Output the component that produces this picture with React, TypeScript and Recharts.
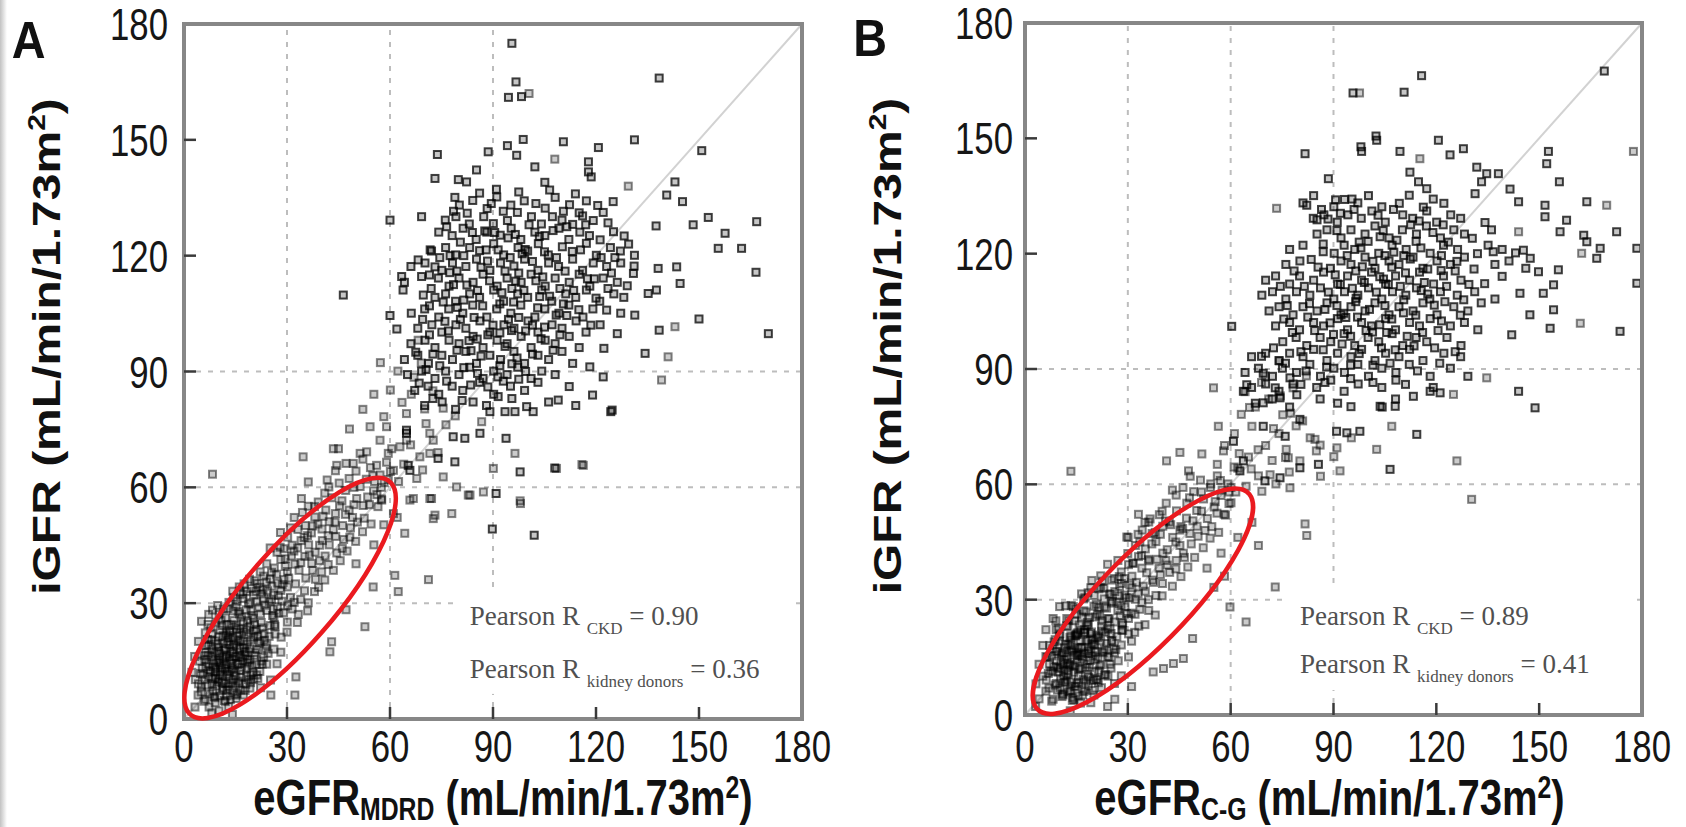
import React from "react";
import { ScatterChart, Scatter, XAxis, YAxis, ReferenceLine, ReferenceArea } from "recharts";

type Pt = [number, number];

const axisTicks = [0, 30, 60, 90, 120, 150, 180];
const gridValues = [30, 60, 90];
const identitySegment = [{ x: 0, y: 0 }, { x: 180, y: 180 }];

const ckdA: Pt[] = [
  [6.2,5.1],[9.1,4.2],[12.3,6.0],[15.2,5.3],[8.4,7.2],[11.2,8.1],[14.1,7.4],[17.3,6.2],[5.1,8.3],[19.2,8.0],[13.0,3.2],[7.3,3.1],
  [6.0,10.2],[8.2,9.1],[10.1,10.3],[12.2,9.2],[14.3,10.1],[16.1,9.3],[18.2,11.1],[20.3,10.2],[9.1,12.2],[11.3,11.1],[13.2,12.3],[15.1,11.2],[7.2,11.0],[22.1,12.3],[4.2,9.1],
  [5.3,13.1],[7.1,14.2],[9.2,13.0],[10.1,15.2],[12.3,14.1],[14.2,13.2],[16.0,14.3],[18.3,13.1],[11.1,13.3],[13.3,15.1],[15.2,16.2],[17.1,15.0],[19.2,15.3],[21.1,14.2],[8.2,16.1],[6.1,15.3],[23.2,16.0],[20.1,12.2],
  [6.3,17.2],[8.1,18.1],[10.2,17.0],[12.1,18.3],[14.3,17.1],[16.2,18.2],[18.1,17.3],[11.2,16.1],[13.1,19.2],[15.3,19.0],[17.2,20.1],[19.1,18.2],[21.3,18.0],[9.2,20.2],[7.1,19.3],[22.2,20.1],[24.1,19.2],[12.3,16.2],
  [8.2,22.1],[10.1,21.3],[12.3,22.2],[14.2,21.0],[16.1,22.3],[18.2,23.1],[20.3,21.2],[11.1,24.2],[13.2,23.0],[15.1,24.3],[17.3,25.1],[19.2,24.0],[21.1,23.2],[23.3,22.1],[25.1,24.2],[9.3,25.1],[6.2,22.3],
  [10.2,27.1],[12.1,26.2],[14.3,28.0],[16.2,27.2],[18.1,28.3],[20.2,26.1],[22.3,27.2],[24.1,28.1],[26.2,26.3],[13.1,30.2],[15.2,29.1],[17.1,31.2],[19.3,30.1],[21.2,30.3],[23.1,31.1],[8.3,28.2],[27.2,29.1],
  [14.2,33.1],[16.1,34.2],[18.3,33.0],[20.2,32.2],[22.1,34.1],[24.3,33.2],[26.1,32.1],[28.2,33.3],[19.1,36.2],[21.3,35.1],[23.2,37.0],[25.1,36.3],[27.3,35.2],[29.1,36.1],[17.2,32.3],[30.1,34.2],
  [10.6,12.4],[12.6,11.6],[13.7,14.4],[11.6,15.6],[9.6,14.6],[14.6,12.1],[16.4,12.6],[15.6,14.1],[10.1,18.6],[12.6,20.1],[14.6,19.4],[16.1,16.6],[8.6,15.1],[7.6,12.6],[17.6,17.4],[13.1,10.6],[11.1,9.4],[9.1,10.6],[15.1,8.6],[18.6,15.4],
  [22.2,38.1],[24.1,40.2],[26.3,39.1],[28.2,41.3],[30.1,38.2],[32.3,40.1],[27.1,43.2],[29.2,44.1],[31.3,42.2],[33.1,44.3],[35.2,42.1],[30.2,47.1],[34.1,46.2],[36.3,45.1],[38.2,43.2],[25.1,44.3],[37.1,48.2],[33.2,49.1],[40.3,46.2],[28.1,48.3],
  [32.1,52.2],[35.3,50.1],[38.1,52.3],[40.2,49.2],[42.3,51.1],[36.2,55.1],[39.1,56.2],[41.3,54.1],[44.1,53.2],[46.2,50.1],[43.1,57.3],[45.3,55.2],[48.1,54.1],[34.2,57.1],[47.1,59.2],[50.3,57.1],[42.2,60.1],[49.1,52.2],[52.2,55.3],
  [45.2,61.1],[48.1,62.3],[51.3,60.2],[53.1,62.1],[55.2,59.1],[50.1,64.2],[54.3,65.1],[57.1,63.2],[56.2,58.1],[52.1,67.3],[58.3,61.2],[60.1,64.1],[47.2,66.2],[44.1,64.3],
  [3.2,3.1],[4.1,6.2],[2.3,12.1],[3.1,16.2],[4.2,20.1],[5.1,25.3],[7.2,27.1],[3.3,10.2],[25.2,10.1],[27.1,14.3],[26.2,18.1],[28.3,21.2],[30.1,25.1],[28.2,17.3],[24.1,14.2],[22.3,8.1],[30.2,29.3],[32.1,30.2],[33.3,27.1],[35.1,33.2],[36.2,30.1],[38.3,36.2],[40.1,38.1],[37.2,40.3],[41.1,42.2],[42.3,45.1],[44.2,47.3],[46.1,44.2],[48.3,47.1],[39.2,34.1],[25.3,6.2],[14.1,1.2],[10.2,2.1],
  [8.3,63.4],[34.7,67.9],[43.5,70.0],[41.7,61.9],[36.2,61.4],[52.7,23.9],[43.0,20.0],[32.6,10.9],[61.4,37.2],[71.2,36.1],[62.4,33.0],[55.1,34.2],[72.6,51.9],[65.8,56.7],[71.6,57.1],[8.1,1.6],[47.2,28.3],[50.1,40.2],[55.3,45.1],[58.2,50.3],[62.1,52.2],[64.3,48.1],[42.5,17.4],[32.3,6.2],
  [54.2,75.7],[57.1,72.2],[59.5,68.8],[61.0,64.4],[68.7,67.9],[62.9,70.5],[51.3,68.8],[49.3,66.2],[45.0,70.0],[44.5,65.7],[56.1,65.7],[53.2,69.2],[59.0,75.7],[71.6,68.8],[72.6,72.2],[67.8,62.3],[57.6,56.7],[61.0,53.2],[66.8,57.1],[72.1,57.1],[73.1,52.8],[78.0,53.2],[82.8,58.0],[87.2,58.8],[75.5,62.7],[64.8,79.1],[64.8,72.2],[71.6,74.0],[86.7,77.0],[79.4,60.1],[68.2,98.1],[48.2,75.1],[52.1,80.2],[55.3,84.1],[58.2,78.3],[60.1,85.2],[62.3,90.1],[57.2,92.3],[96.4,68.8],[108.5,64.9],[116.3,65.7],[90.1,64.9],[98.0,55.8],[83.3,58.0],[97.9,56.5],[108.0,145.0],[129.4,138.0],[141.0,93.8],[139.1,87.8],[143.0,101.6],[115.9,65.9],[100.5,162.0],[70.1,80.3],[66.2,84.1],[76.3,76.2],[69.1,92.2]
];

const ckdCoreExtraA: Pt[] = [
  [7.5,6.5],[10.5,6.0],[13.5,5.0],[16.5,7.5],[9.5,8.5],[12.5,7.5],[18.0,9.0],[5.5,11.5],[8.5,13.5],[10.5,11.5],[12.0,13.0],[14.0,15.5],[16.5,16.0],[18.5,14.5],[20.5,16.5],[7.0,16.5],[9.5,17.5],[11.5,19.5],[13.5,17.5],[15.5,21.5],[17.5,18.5],[19.5,20.5],[21.5,21.5],[10.5,23.0],[12.5,24.5],[14.5,25.5],[16.5,23.5],[18.5,25.5],[20.5,24.5],[22.5,25.0],[11.5,28.5],[15.5,30.5],[19.5,28.0],[23.5,29.5],[17.5,35.0],[25.5,31.0],[13.0,21.0],[6.5,19.0],[8.0,20.5],[22.5,15.0],[24.5,17.0],[26.5,22.0],[5.0,7.0],[9.0,5.5],[12.0,4.5],[15.5,6.5],[19.5,11.5],[21.5,10.5],[4.5,15.0],[7.0,24.5],[14.5,31.5],[21.0,33.0],[26.0,28.5],[28.5,30.5],[31.0,31.5],[24.0,35.5],[29.5,39.5],[34.0,40.5],[31.5,45.0],[36.0,47.5],[39.0,50.5],[43.5,49.0],[46.0,56.5],[41.0,58.5],[49.5,60.0],[53.5,57.5],[57.5,60.0],[55.0,63.0],[59.0,66.5],[62.5,61.5],[64.0,66.0],[60.5,70.0],[66.0,71.0],[69.5,64.5],[74.0,69.0],[70.5,76.5],[75.5,80.5],[72.5,85.0],[79.0,78.5],[67.0,88.5],[63.5,82.0]
];

const ckdCoreMoreA: Pt[] = [
  [5.8,4.6],[8.8,5.8],[11.8,4.8],[14.8,6.2],[17.8,7.4],[6.8,8.8],[9.8,9.6],[12.8,8.4],[15.8,9.8],[18.8,10.2],[21.2,11.4],[4.8,11.8],[7.8,12.2],[10.8,13.8],[13.8,12.8],[16.8,13.4],[19.8,13.8],[22.8,14.2],[5.8,16.4],[8.8,17.2],[11.8,17.8],[14.8,16.2],[17.8,16.4],[20.8,17.2],[23.8,18.2],[6.8,20.6],[9.8,19.4],[12.8,21.6],[15.8,20.2],[18.8,21.8],[21.8,19.6],[24.8,21.4],[7.8,23.6],[10.8,25.6],[13.8,24.4],[16.8,26.4],[19.8,26.8],[22.8,23.6],[25.8,26.8],[9.8,29.4],[12.8,28.6],[15.8,27.8],[18.8,29.8],[21.8,28.8],[24.8,30.4],[16.4,32.8],[19.6,33.8],[22.6,32.4],[25.6,34.4],[28.6,34.8],[11.4,7.4],[13.6,9.4],[16.6,10.8],[10.4,14.6],[12.4,16.6],[14.4,18.6],[16.4,20.4],[18.4,19.4],[11.4,21.6],[13.4,22.4],[15.4,23.2],[17.4,22.6],[20.4,22.8],[8.4,10.4],[6.4,13.6],[19.4,9.4],[23.4,20.4],[26.4,24.4],[27.6,27.4],[20.6,35.8]
];

const ckdBandExtraA: Pt[] = [
  [26.5,24.0],[29.0,27.5],[31.5,28.5],[34.0,31.0],[32.5,35.0],[35.5,36.5],[37.5,38.5],[39.5,41.0],[42.0,40.0],[44.5,43.0],[46.5,46.5],[48.5,49.5],[50.5,51.0],[52.5,52.0],[54.0,55.5],[56.5,55.0],[38.0,33.0],[41.0,36.0],[43.5,38.5],[45.5,41.0],[47.5,43.5],[50.0,46.0],[52.0,48.5],[54.5,50.5],[30.0,22.5],[33.0,25.0],[36.0,28.0],[27.5,32.0],[30.5,36.5],[33.5,38.5],[36.5,42.5],[39.5,45.0],[42.0,47.5],[44.0,51.0],[47.0,53.0],[49.5,55.5],[27.0,37.5],[29.5,41.5],[32.0,43.5],[35.0,47.0],[37.5,50.0],[40.5,52.5],[23.0,33.5],[25.5,38.0],[28.0,44.5],[31.0,49.5],[34.5,53.5],[38.0,55.0],[57.5,57.0],[59.5,62.0],[55.5,61.5]
];

const donorsA: Pt[] = [
  [95.5,175.0],[96.7,165.0],[98.3,161.2],[94.5,161.0],[138.4,166.0],[131.2,150.0],[150.8,147.2],[98.8,150.1],[88.6,146.9],[96.9,146.0],[73.8,146.2],[120.7,148.0],[117.8,144.3],[117.8,141.7],[118.6,140.4],[102.2,143.0],[85.2,142.2],[73.1,140.0],[79.9,139.7],[82.3,139.1],[143.0,139.1],[140.6,135.7],[145.2,134.0],[125.0,134.0],[105.1,139.0],[91.0,137.2],[78.9,135.1],[69.2,130.1],[60.0,129.2],[166.8,128.8],[152.7,129.9],[148.3,128.0],[137.5,127.7],[157.6,125.8],[155.6,121.9],[162.4,121.9],[166.6,115.7],[150.0,103.6],[170.2,99.8],[138.4,100.7],[134.3,94.7],[126.2,99.8],[122.3,96.0],[131.3,104.6],[138.1,116.7],[143.5,117.1],[144.5,112.8],[135.2,110.2],[137.6,111.1],[130.9,115.4],[123.1,105.9],[124.3,79.6],[119.0,83.9],[122.1,88.6],[118.2,91.2],[109.0,82.6],[99.8,80.9],[101.7,79.6],[96.4,79.6],[93.5,79.6],[89.1,79.6],[93.8,72.7],[97.9,64.0],[90.9,58.4],[86.2,74.0],[78.4,73.1],[81.8,72.7],[74.0,67.5],[78.9,66.6],[65.3,65.7],[64.8,74.0],[124.7,80.0],[89.8,49.2],[102.0,47.6],[108.0,65.0],[46.4,109.8],[63.4,114.6],[63.8,111.1],[68.2,118.9],[71.7,121.5],[73.1,117.1],[69.2,114.6],[69.7,109.8],[62.0,101.0],[60.0,104.5],[64.8,74.8],[65.8,64.4],[94.2,148.5],[110.5,149.5],
  [80.2,133.1],[84.1,134.3],[88.3,132.2],[91.1,135.2],[95.2,133.1],[99.1,134.2],[105.2,132.3],[108.1,135.1],[112.3,133.2],[115.1,131.1],[117.2,134.2],[86.1,136.2],
  [76.1,129.2],[79.2,130.1],[83.1,128.2],[87.3,130.1],[90.1,128.3],[94.2,129.1],[97.1,131.2],[101.2,130.1],[104.1,128.2],[107.3,130.1],[110.1,129.2],[113.2,128.1],[116.1,130.3],[119.2,129.1],[122.1,131.2],
  [74.2,126.1],[78.1,125.2],[81.3,127.1],[85.1,124.2],[88.2,126.1],[92.1,125.3],[95.3,127.1],[98.1,124.2],[102.2,126.1],[105.1,125.2],[109.2,127.1],[112.1,124.2],[115.3,126.1],[118.1,125.2],[121.2,124.1],[125.1,126.2],[128.2,125.1],
  [72.1,121.2],[76.2,122.1],[79.1,120.2],[83.2,122.1],[86.1,121.3],[90.2,123.1],[93.1,120.2],[97.3,122.1],[100.1,121.2],[103.2,123.1],[106.1,120.2],[110.2,122.3],[113.1,121.1],[117.2,123.2],[120.1,120.1],[124.2,122.1],[127.1,121.2],[131.2,120.1],
  [66.1,117.2],[70.2,118.1],[75.1,116.2],[78.2,118.1],[82.1,117.2],[85.2,119.1],[89.1,116.2],[92.2,118.1],[96.1,117.3],[99.2,119.1],[103.1,116.2],[106.2,118.1],[109.1,117.2],[113.2,119.1],[116.1,116.2],[119.2,118.1],[123.1,117.2],[127.2,118.1],[131.1,117.3],
  [64.2,113.1],[74.1,114.2],[77.2,112.1],[80.1,114.2],[84.2,113.1],[87.1,115.2],[91.2,112.1],[94.1,114.2],[98.2,113.1],[101.1,115.2],[105.2,112.1],[108.1,114.2],[112.2,113.1],[115.1,115.2],[118.2,112.1],[122.1,114.2],[126.2,113.1],[129.1,112.2],
  [73.1,109.2],[76.2,110.1],[79.1,108.2],[83.2,110.1],[86.1,109.2],[90.2,111.1],[93.1,108.2],[97.2,110.1],[100.1,109.2],[104.2,111.1],[107.1,108.2],[111.2,110.1],[114.1,109.2],[117.2,111.1],[121.1,108.2],[125.2,110.1],[128.1,109.2],
  [66.2,105.1],[70.1,106.2],[74.2,104.1],[77.1,106.2],[81.2,105.1],[84.1,107.2],[88.2,104.1],[91.1,106.2],[95.2,105.1],[98.1,107.2],[102.2,104.1],[105.1,106.2],[109.2,105.1],[112.1,107.2],[116.2,104.1],[119.1,106.2],[127.2,105.1],
  [68.1,101.2],[72.2,102.1],[75.1,100.2],[79.2,102.1],[82.1,101.2],[86.2,103.1],[89.1,100.2],[93.2,102.1],[96.1,101.2],[100.2,103.1],[103.1,100.2],[107.2,102.1],[110.1,101.2],[114.2,103.1],[117.1,100.2],[121.2,102.1],
  [66.1,97.2],[70.2,98.1],[73.1,96.2],[77.2,98.1],[80.1,97.2],[84.2,99.1],[87.1,96.2],[91.2,98.1],[94.1,97.2],[98.2,99.1],[101.1,96.2],[105.2,98.1],[108.1,97.2],[112.2,99.1],[115.1,96.2],
  [64.2,93.1],[68.1,94.2],[71.2,92.1],[75.1,94.2],[78.2,93.1],[82.1,95.2],[85.2,92.1],[89.1,94.2],[92.2,93.1],[96.1,95.2],[99.2,92.1],[103.1,94.2],[106.2,93.1],[110.1,95.2],[113.2,92.1],
  [65.1,89.2],[69.2,90.1],[73.1,88.2],[76.2,90.1],[80.1,89.2],[83.2,91.1],[87.1,88.2],[90.2,90.1],[94.1,89.2],[97.2,91.1],[101.1,88.2],[104.2,90.1],[108.1,89.2],
  [67.2,85.1],[71.1,86.2],[74.2,84.1],[78.1,86.2],[81.2,85.1],[86.1,87.2],[90.2,84.1],[95.1,86.2],[99.2,85.1],[103.1,87.2],[112.2,86.1],
  [70.1,81.2],[75.2,82.1],[79.1,80.2],[84.2,82.1],[88.1,81.2],[106.2,82.1],[114.1,81.2],
  [82.4,112.4],[88.4,118.6],[92.6,110.4],[95.4,100.6],[85.4,98.4],[79.6,106.6],[99.4,121.6],[103.6,109.4],[94.4,124.6],[87.6,126.4],[108.4,104.6],[77.4,115.6],[83.6,95.4],[91.4,88.6],[96.6,113.4]
];

const donorsExtraA: Pt[] = [
  [78.5,131.5],[82.5,131.0],[89.5,133.5],[93.0,131.5],[97.5,136.5],[102.5,133.5],[106.5,137.0],[110.5,131.5],[114.0,136.0],[120.5,133.0],[76.5,127.5],[80.5,123.5],[84.0,126.0],[90.5,126.0],[96.5,125.5],[100.5,128.0],[103.5,125.0],[107.5,126.5],[111.5,127.5],[117.0,128.0],[123.5,128.5],[74.5,119.5],[77.5,120.0],[81.5,120.0],[88.0,121.5],[91.5,121.5],[95.0,119.5],[98.5,120.5],[101.5,118.5],[105.0,121.0],[108.5,119.5],[115.5,121.5],[121.5,119.5],[125.5,119.5],[129.5,123.0],[71.5,115.0],[79.5,116.0],[86.5,117.0],[93.5,116.0],[97.5,115.5],[104.5,114.5],[111.0,116.0],[117.5,114.0],[124.5,115.5],[72.0,111.5],[78.5,112.5],[85.5,111.0],[89.0,113.5],[95.5,111.5],[99.0,111.0],[102.5,113.5],[109.5,111.5],[113.5,111.0],[119.5,114.0],[123.5,111.5],[71.5,107.0],[75.5,108.0],[81.5,108.5],[87.0,107.0],[92.0,107.5],[96.0,108.0],[103.0,106.5],[106.5,109.5],[110.5,107.5],[115.0,106.0],[120.0,109.0],[69.5,103.5],[76.0,103.0],[80.5,103.5],[84.5,104.0],[90.0,102.0],[94.5,103.5],[97.5,104.0],[101.5,102.0],[105.0,101.5],[111.5,104.5],[118.5,102.0],[71.5,99.5],[77.0,100.5],[83.0,98.0],[88.5,99.5],[92.0,100.0],[99.5,100.5],[104.0,98.5],[109.5,99.5],[67.5,95.0],[72.5,94.5],[79.5,95.5],[86.5,94.0],[93.5,96.5],[97.0,93.5],[101.5,94.5],[107.5,95.5],[70.5,90.5],[74.5,91.5],[81.5,91.0],[85.5,89.5],[92.0,91.5],[95.5,92.0],[99.5,90.0],[68.5,87.0],[76.5,87.5],[83.5,86.5],[88.5,86.0],[93.0,87.5],[97.5,88.0],[72.5,83.0],[81.0,82.5],[91.5,83.5],[95.5,83.0]
];

const ckdB: Pt[] = [
  [8.2,4.1],[11.1,5.2],[14.3,4.0],[17.2,6.1],[20.1,5.2],[10.2,7.1],[13.1,6.2],[16.2,3.1],[6.1,6.2],[22.3,7.1],[19.2,3.2],
  [6.2,9.1],[9.1,8.2],[12.2,9.1],[15.1,8.2],[18.3,10.1],[21.1,9.2],[24.2,10.1],[8.1,11.2],[11.3,10.1],[14.2,11.1],[17.1,9.2],[20.2,11.3],[5.2,10.1],[26.1,8.2],
  [7.1,13.2],[10.2,12.1],[13.1,13.2],[16.3,12.1],[19.1,14.2],[22.2,13.1],[25.1,12.2],[9.2,14.1],[12.1,15.2],[15.2,14.1],[18.1,13.2],[21.3,15.1],[24.1,15.2],[27.2,14.1],[6.1,15.2],[11.2,13.1],
  [8.1,17.2],[11.2,16.1],[14.1,17.2],[17.3,16.1],[20.1,18.2],[23.2,17.1],[26.1,16.2],[10.1,19.2],[13.2,18.1],[16.1,19.2],[19.2,17.1],[22.1,19.3],[25.2,19.1],[28.1,18.2],[7.2,18.1],[15.1,16.2],
  [10.2,21.1],[13.1,20.2],[16.2,22.1],[19.1,21.2],[22.3,23.1],[25.1,21.2],[28.2,22.1],[12.1,23.2],[15.2,21.1],[18.1,23.2],[21.2,20.1],[24.1,22.3],[30.2,21.1],[9.1,22.2],
  [12.2,25.1],[15.1,26.2],[18.2,24.1],[21.1,26.2],[24.2,25.1],[27.1,27.2],[30.2,25.1],[14.1,28.2],[17.2,27.1],[20.1,28.3],[23.2,28.1],[26.1,24.2],[29.2,28.1],[32.1,26.2],
  [17.1,30.2],[20.2,31.1],[23.1,30.2],[26.2,32.1],[29.1,31.2],[32.2,30.1],[35.1,32.2],[19.2,33.1],[22.1,33.2],[25.2,29.1],[28.1,34.2],[31.2,33.1],[34.1,29.2],
  [12.6,10.6],[14.6,12.6],[16.6,14.6],[13.6,16.4],[11.6,14.4],[15.6,10.4],[17.6,12.4],[18.6,16.6],[12.6,18.4],[14.6,20.6],[16.6,17.6],[10.6,15.6],[9.6,12.4],[19.6,19.6],[13.4,8.6],[11.4,11.6],[15.4,15.4],[17.4,21.4],[20.4,16.4],[9.4,16.6],
  [22.1,36.2],[25.2,35.1],[28.1,37.2],[31.2,36.1],[34.1,38.2],[37.2,35.1],[27.1,40.2],[30.2,39.1],[33.1,41.2],[36.2,40.1],[39.1,38.2],[40.2,42.1],[24.1,39.2],[32.2,44.1],[35.1,43.2],[38.2,45.1],[41.1,40.2],
  [30.1,46.2],[34.2,48.1],[37.1,47.2],[40.2,49.1],[43.1,46.2],[45.2,44.1],[36.1,50.2],[39.2,52.1],[42.1,50.2],[45.2,48.1],[48.1,47.2],[44.2,53.1],[47.1,51.2],[50.2,49.1],[33.1,52.2],
  [41.2,55.1],[44.1,57.2],[47.2,55.1],[50.1,53.2],[53.2,51.1],[46.1,59.2],[49.2,58.1],[52.1,56.2],[55.2,54.1],[58.1,52.2],[51.2,61.1],[54.1,59.2],[57.2,57.1],[60.1,55.2],[48.2,62.1],[56.1,62.2],[59.2,60.1],
  [4.1,4.2],[3.2,8.1],[4.1,13.2],[5.2,18.1],[6.1,22.2],[8.2,25.1],[10.1,28.2],[26.2,4.1],[28.1,10.2],[30.2,15.1],[31.1,19.2],[33.2,23.1],[36.1,27.2],[38.2,31.1],[40.1,34.2],[42.2,37.1],[44.1,40.2],[46.2,42.1],[3.1,2.2],[13.2,1.1],[24.1,2.2],
  [13.4,63.4],[29.7,46.3],[35.0,50.1],[41.3,66.1],[45.2,68.3],[47.7,63.5],[51.6,67.9],[68.1,44.1],[73.0,33.3],[64.5,24.2],[59.8,28.1],[48.9,19.9],[46.2,14.7],[43.3,13.4],[40.4,12.1],[37.4,11.2],[31.1,7.4],[81.7,49.7],[82.2,46.7],[53.1,38.2],[57.2,42.1],[62.1,46.2],[66.2,50.1],[55.1,33.2],[58.2,36.1],
  [62.1,64.2],[65.2,67.1],[68.1,62.2],[70.2,70.1],[72.1,66.2],[58.2,70.1],[61.1,73.2],[66.2,75.1],[74.1,73.2],[76.2,69.1],[69.1,58.2],[73.2,60.1],[77.1,63.2],[80.2,66.1],[63.1,78.2],[67.2,80.1],[71.1,82.2],[75.2,78.1],[79.1,75.2],[83.2,72.1],[86.1,70.2],[78.2,85.1],[82.1,88.2],[64.2,84.1],[70.1,88.2],[74.2,92.1],[86.2,62.1],[90.1,67.2],[95.2,72.1],[56.1,65.2],[54.2,60.1],[60.1,59.2],[55.0,85.1],[56.4,75.1],[57.9,68.7],[76.8,66.9],[84.6,71.7],[91.0,69.5],[91.9,63.5],[77.3,59.1],[85.0,68.7],
  [73.4,131.8],[97.6,161.8],[115.2,144.7],[144.0,125.7],[162.4,120.1],[169.7,132.6],[177.5,146.6],[162.0,101.9],[134.7,87.7],[102.6,69.1],[126.0,66.1],[130.3,56.1],[107.0,75.1],[125.0,83.4]
];

const ckdCoreExtraB: Pt[] = [
  [9.5,6.5],[12.5,6.0],[15.5,5.0],[18.5,7.5],[11.5,8.5],[14.5,7.5],[20.0,9.0],[7.5,11.5],[10.5,13.5],[12.5,11.5],[14.0,13.0],[16.0,15.5],[18.5,16.0],[20.5,14.5],[22.5,16.5],[9.0,16.5],[11.5,17.5],[13.5,19.5],[15.5,17.5],[17.5,21.5],[19.5,18.5],[21.5,20.5],[23.5,21.5],[12.5,23.0],[14.5,24.5],[16.5,25.5],[18.5,23.5],[20.5,25.5],[22.5,24.5],[24.5,25.0],[13.5,28.5],[17.5,30.5],[21.5,28.0],[25.5,29.5],[19.5,35.0],[27.5,31.0],[15.0,21.0],[8.5,19.0],[10.0,20.5],[24.5,15.0],[26.5,17.0],[28.5,22.0],[7.0,7.0],[11.0,5.5],[14.0,4.5],[17.5,6.5],[21.5,11.5],[23.5,10.5],[6.5,15.0],[9.0,24.5],[16.5,31.5],[23.0,33.0],[28.0,28.5],[30.5,30.5],[33.0,31.5],[26.0,35.5],[31.5,39.5],[36.0,40.5],[33.5,45.0],[38.0,47.5],[41.0,50.5],[45.5,49.0],[48.0,56.5],[43.0,58.5],[51.5,58.0],[55.5,55.5],[59.5,58.0],[57.0,61.0],[61.0,64.5],[64.5,59.5],[66.0,64.0],[62.5,68.0],[68.0,69.0],[71.5,62.5],[76.0,67.0],[72.5,74.5],[77.5,78.5],[74.5,83.0],[81.0,76.5],[69.0,86.5],[65.5,80.0]
];

const ckdCoreMoreB: Pt[] = [
  [7.8,3.6],[10.8,4.8],[13.8,3.8],[16.8,5.2],[19.8,6.4],[8.8,7.8],[11.8,8.6],[14.8,7.4],[17.8,8.8],[20.8,9.2],[23.2,10.4],[6.8,10.8],[9.8,11.2],[12.8,12.8],[15.8,11.8],[18.8,12.4],[21.8,12.8],[24.8,13.2],[7.8,15.4],[10.8,16.2],[13.8,16.8],[16.8,15.2],[19.8,15.4],[22.8,16.2],[25.8,17.2],[8.8,19.6],[11.8,18.4],[14.8,20.6],[17.8,19.2],[20.8,20.8],[23.8,18.6],[26.8,20.4],[9.8,22.6],[12.8,24.6],[15.8,23.4],[18.8,25.4],[21.8,25.8],[24.8,22.6],[27.8,25.8],[11.8,28.4],[14.8,27.6],[17.8,26.8],[20.8,28.8],[23.8,27.8],[26.8,29.4],[18.4,31.8],[21.6,32.8],[24.6,31.4],[27.6,33.4],[30.6,33.8],[13.4,6.4],[15.6,8.4],[18.6,9.8],[12.4,13.6],[14.4,15.6],[16.4,17.6],[18.4,19.4],[20.4,18.4],[13.4,20.6],[15.4,21.4],[17.4,22.2],[19.4,21.6],[22.4,21.8],[10.4,9.4],[8.4,12.6],[21.4,8.4],[25.4,19.4],[28.4,23.4],[29.6,26.4],[22.6,34.8]
];

const ckdBandExtraB: Pt[] = [
  [28.5,24.0],[31.0,26.5],[33.5,27.5],[36.0,30.0],[34.5,33.5],[37.5,34.5],[39.5,36.5],[41.5,39.0],[44.0,38.0],[46.5,41.0],[48.5,44.5],[50.5,46.5],[52.5,48.0],[54.5,49.0],[56.0,52.5],[58.5,52.0],[40.0,31.0],[43.0,33.5],[45.5,36.0],[47.5,38.5],[49.5,41.0],[52.0,43.5],[54.0,46.0],[56.5,47.5],[32.0,21.5],[35.0,23.5],[38.0,26.0],[29.5,30.5],[32.5,34.5],[35.5,37.0],[38.5,40.5],[41.5,43.0],[44.0,45.0],[46.0,48.5],[49.0,50.5],[51.5,53.0],[29.0,35.5],[31.5,39.5],[34.0,41.5],[37.0,44.5],[39.5,47.0],[42.5,49.5],[25.0,31.5],[27.5,36.0],[30.0,42.0],[33.0,47.0],[36.5,51.0],[40.0,53.0],[59.5,55.0],[61.5,58.0],[57.5,58.5]
];

const donorsB: Pt[] = [
  [95.7,161.8],[110.6,162.0],[115.7,166.3],[169.0,167.5],[102.6,149.5],[120.6,149.5],[81.7,146.0],[98.2,146.6],[109.4,146.6],[124.0,145.7],[127.9,147.3],[152.7,146.6],[152.2,143.4],[88.5,139.5],[112.3,141.2],[114.8,138.7],[117.2,136.9],[131.8,142.5],[134.7,140.8],[138.1,140.8],[133.2,138.7],[155.9,138.7],[141.5,136.8],[144.0,133.5],[131.3,135.6],[82.2,132.6],[151.7,132.6],[151.7,129.6],[163.9,133.5],[158.0,128.7],[156.1,125.7],[163.0,124.8],[163.9,123.1],[167.8,121.4],[166.8,118.8],[172.6,125.7],[178.5,121.4],[178.5,112.3],[145.4,120.9],[147.4,118.8],[136.6,120.5],[149.8,115.3],[155.6,115.8],[151.2,109.7],[154.2,111.9],[154.2,105.4],[144.4,109.7],[147.3,104.1],[142.0,98.9],[153.2,100.6],[173.6,99.8],[144.0,84.2],[148.8,79.9],[114.3,73.0],[106.5,63.9],[103.6,80.3],[108.0,80.3],[90.9,73.8],[93.9,73.4],[97.7,73.8],[85.6,65.2],[113.3,82.9],[118.2,84.2],[121.1,83.8],[60.3,101.1],[98.0,147.8],[102.4,150.6],[85.2,128.8],[88.4,129.0],[90.6,134.0],[95.4,134.2],
  [69.5,75.1],[75.9,72.5],[80.2,76.9],[63.7,66.1],[70.0,60.9],[74.4,61.7],[80.2,64.3],[60.8,71.2],[62.7,63.5],[63.7,84.2],[64.7,85.9],[69.0,93.3],[69.5,88.9],[73.0,85.1],[77.3,87.7],[69.5,81.2],[74.4,82.5],[79.3,83.3],
  [81.1,133.2],[84.2,135.1],[90.1,132.2],[93.2,134.1],[97.1,133.2],[100.2,135.1],[104.1,132.2],[109.2,133.1],[112.1,135.2],[116.2,132.1],[119.1,134.2],[122.2,133.1],
  [84.1,129.2],[87.2,130.1],[91.1,128.2],[94.2,130.1],[98.1,129.2],[101.2,131.1],[105.1,128.2],[110.2,130.1],[113.1,129.2],[117.2,131.1],[120.1,128.2],[124.2,130.1],[127.1,129.2],[134.2,128.1],
  [85.2,125.1],[88.1,126.2],[92.2,124.1],[95.1,126.2],[99.2,125.1],[102.1,127.2],[106.2,124.1],[110.1,126.2],[114.2,125.1],[117.1,127.2],[121.2,124.1],[125.1,126.2],[128.2,125.1],[136.1,126.2],
  [77.2,121.1],[81.1,122.2],[90.2,120.1],[93.1,122.2],[96.2,121.1],[100.1,123.2],[103.2,120.1],[107.1,122.2],[111.2,121.1],[114.1,123.2],[118.2,120.1],[122.1,122.2],[126.2,121.1],[135.1,122.2],[139.2,121.1],[143.1,120.2],
  [76.1,117.2],[80.2,118.1],[89.1,116.2],[92.2,118.1],[95.1,117.2],[99.2,119.1],[102.1,116.2],[106.2,118.1],[109.1,117.2],[113.2,119.1],[116.1,116.2],[120.2,118.1],[124.1,117.2],[128.2,119.1],[137.1,117.2],[141.2,118.1],[146.1,116.2],
  [70.2,113.1],[73.1,114.2],[77.2,112.1],[80.1,114.2],[84.2,113.1],[87.1,115.2],[91.2,112.1],[94.1,114.2],[98.2,113.1],[101.1,115.2],[105.2,112.1],[108.1,114.2],[112.2,113.1],[115.1,115.2],[119.2,112.1],[122.1,114.2],[127.2,113.1],[134.1,112.2],[139.2,114.1],
  [69.1,109.2],[72.2,110.1],[76.1,108.2],[79.2,110.1],[83.1,109.2],[86.2,111.1],[90.1,108.2],[93.2,110.1],[97.1,109.2],[100.2,111.1],[104.1,108.2],[107.2,110.1],[111.1,109.2],[114.2,111.1],[118.1,108.2],[121.2,110.1],[126.1,109.2],[131.2,110.1],[137.1,108.2],
  [71.2,105.1],[74.1,106.2],[78.2,104.1],[81.1,106.2],[85.2,105.1],[88.1,107.2],[92.2,104.1],[95.1,106.2],[99.2,105.1],[102.1,107.2],[106.2,104.1],[109.1,106.2],[113.2,105.1],[116.1,107.2],[120.2,104.1],[125.1,106.2],[129.2,105.1],[133.1,107.2],
  [73.1,101.2],[77.2,102.1],[80.1,100.2],[84.2,102.1],[87.1,101.2],[91.2,103.1],[94.1,100.2],[98.2,102.1],[101.1,101.2],[105.2,103.1],[108.1,100.2],[112.2,102.1],[115.1,101.2],[118.2,103.1],[124.1,101.2],[128.2,102.1],[132.1,100.2],
  [75.2,97.1],[79.1,98.2],[82.2,96.1],[86.1,98.2],[89.2,97.1],[93.1,99.2],[96.2,96.1],[100.1,98.2],[103.2,97.1],[107.1,99.2],[110.2,96.1],[114.1,98.2],[117.2,97.1],[123.1,98.2],[127.2,96.1],
  [66.1,93.2],[70.2,94.1],[74.1,92.2],[77.2,94.1],[81.1,93.2],[84.2,95.1],[88.1,92.2],[91.2,94.1],[95.1,93.2],[98.2,95.1],[102.1,92.2],[105.2,94.1],[109.1,93.2],[112.2,95.1],[116.1,92.2],[122.2,94.1],[127.1,93.2],
  [64.2,89.1],[68.1,90.2],[72.2,88.1],[75.1,90.2],[79.2,89.1],[83.1,91.2],[86.2,88.1],[90.1,90.2],[93.2,89.1],[97.1,91.2],[100.2,88.1],[104.1,90.2],[108.2,89.1],[112.1,91.2],[118.2,88.1],[124.1,90.2],[129.2,88.1],
  [66.1,85.2],[70.2,86.1],[74.1,84.2],[78.2,86.1],[85.1,85.2],[89.2,87.1],[93.1,84.2],[97.2,86.1],[104.1,85.2],[108.2,87.1],[119.1,85.2],
  [67.2,81.1],[72.1,82.2],[77.2,80.1],[86.1,82.2],[91.2,81.1],[95.1,80.2],[104.2,80.1],[108.1,82.2],
  [98.4,116.6],[104.6,113.4],[110.4,104.6],[115.6,110.4],[101.4,99.6],[107.6,120.4],[119.4,106.6],[96.6,108.4],[112.4,118.6],[93.6,103.4],[121.4,115.6],[103.6,124.4]
];

const donorsExtraB: Pt[] = [
  [86.5,131.5],[92.0,130.5],[96.0,131.5],[103.0,130.0],[107.5,131.5],[115.0,128.5],[122.0,127.5],[87.0,122.5],[91.0,126.0],[97.5,123.0],[104.5,126.0],[108.5,123.5],[112.5,127.5],[119.0,125.5],[123.5,123.0],[130.5,124.0],[83.5,118.5],[87.0,120.5],[94.0,119.5],[98.0,121.5],[101.5,118.0],[105.0,119.5],[110.5,119.5],[115.5,121.5],[121.5,119.5],[126.0,118.0],[132.0,120.0],[78.5,115.5],[85.5,116.5],[90.5,114.5],[96.5,115.5],[103.5,114.0],[107.0,116.5],[111.0,115.0],[117.5,116.0],[125.5,115.5],[131.0,116.0],[74.5,111.5],[81.5,111.5],[88.5,110.0],[92.0,112.0],[95.5,111.0],[99.0,112.5],[102.5,110.0],[106.0,112.0],[109.5,111.5],[116.5,112.5],[123.0,111.5],[129.5,112.0],[76.5,106.5],[83.0,107.0],[87.5,105.5],[91.0,106.5],[96.5,107.5],[100.5,105.5],[105.0,106.5],[110.5,108.0],[117.5,109.5],[122.5,107.5],[128.0,108.0],[75.5,103.0],[82.5,103.5],[89.0,102.0],[93.0,104.5],[97.0,103.5],[103.5,101.5],[107.0,103.0],[114.0,104.0],[121.5,102.5],[127.0,104.0],[78.0,99.5],[84.5,100.0],[90.0,99.0],[95.0,98.5],[99.5,100.0],[105.5,99.5],[111.5,98.5],[116.0,99.5],[120.5,100.0],[72.5,95.5],[80.5,94.5],[87.0,95.0],[92.5,96.5],[97.5,94.0],[104.0,95.5],[108.0,95.0],[113.5,96.0],[119.5,95.5],[125.5,94.5],[76.0,91.5],[82.0,89.5],[88.0,90.5],[95.0,91.0],[101.5,91.0],[106.5,91.5],[114.5,89.5],[121.0,91.5],[80.5,86.0],[87.5,86.5],[95.0,87.5],[101.5,86.5],[111.0,86.0]
];

const statsA = { ckd: "0.90", donors: "0.36" };
const statsB = { ckd: "0.89", donors: "0.41" };
const ellipseA = { cx: 30.9, cy: 31.3, a: 41.9, b: 12.8, angle: 45.4 };
const ellipseB = { cx: 34.4, cy: 29.6, a: 41.7, b: 12.3, angle: 41.9 };
const statsBoxA = { x1: 80, x2: 177, y1: 6.5, y2: 34 };
const statsBoxB = { x1: 77, x2: 177, y1: 6.5, y2: 33 };

const SANS = "'Liberation Sans', Arial, Helvetica, sans-serif";
const SERIF = "'Liberation Serif', 'Times New Roman', Times, serif";

const toPoints = (...arrs: Pt[][]) => arrs.flat().map(([x, y]) => ({ x, y }));

function XTick(props: any) {
  const { x, y, payload, gap, labelDrop } = props;
  const v = payload.value;
  const axisY = y - gap;
  return (
    <g>
      {v > 0 && v < 180 ? <line x1={x} x2={x} y1={axisY} y2={axisY - 12} stroke="#3a3a3a" strokeWidth={2.5} /> : null}
      <text transform={`translate(${x},${axisY + labelDrop}) scale(0.79,1)`} textAnchor="middle" fontFamily={SANS} fontSize={44} fill="#161616">{v}</text>
    </g>
  );
}

function YTick(props: any) {
  const { x, y, payload, gap } = props;
  const v = payload.value;
  const axisX = x + gap;
  return (
    <g>
      {v > 0 && v < 180 ? <line x1={axisX} x2={axisX + 12} y1={y} y2={y} stroke="#3a3a3a" strokeWidth={2.5} /> : null}
      <text transform={`translate(${x},${y + 16}) scale(0.79,1)`} textAnchor="end" fontFamily={SANS} fontSize={44} fill="#161616">{v}</text>
    </g>
  );
}

function XTitle(props: any) {
  const { viewBox, sub, shift, drop } = props;
  if (!viewBox) return null;
  const { x, y, width } = viewBox;
  return (
    <text transform={`translate(${x + width / 2 + shift},${y + drop}) scale(0.8,1)`} textAnchor="middle" fontFamily={SANS} fontWeight="bold" fontSize={50} fill="#111">
      eGFR<tspan fontSize={31} dy={5}>{sub}</tspan><tspan dy={-5}> (mL/min/1.73m</tspan><tspan fontSize={31} dy={-17}>2</tspan><tspan dy={17}>)</tspan>
    </text>
  );
}

function YTitle(props: any) {
  const { viewBox, lift } = props;
  if (!viewBox) return null;
  const { x, y, width, height } = viewBox;
  const bx = x + width - 124;
  const cy = y + height / 2 - lift;
  return (
    <text transform={`translate(${bx},${cy}) rotate(-90) scale(1,0.8)`} textAnchor="middle" fontFamily={SANS} fontWeight="bold" fontSize={48} fill="#111">
      iGFR (mL/min/1.73m<tspan fontSize={30} dy={-19}>2</tspan><tspan dy={19}>)</tspan>
    </text>
  );
}

const ckdMarker = (p: any) => (
  <rect x={p.cx - 3.5} y={p.cy - 3.5} width={7} height={7} fill="rgba(0,0,0,0.2)" stroke="rgba(0,0,0,0.48)" strokeWidth={2} />
);
const donorMarker = (p: any) => (
  <rect x={p.cx - 3.5} y={p.cy - 3.5} width={7} height={7} fill="rgba(0,0,0,0.22)" stroke="rgba(0,0,0,0.75)" strokeWidth={2} />
);

function EllipseShape(props: any) {
  const { x, y, width, height, spec } = props;
  const px = x;
  const py = y + height;
  return (
    <ellipse cx={0} cy={0} rx={spec.a} ry={spec.b}
      transform={`translate(${px},${py}) scale(${width},${-height}) rotate(${spec.angle})`}
      fill="none" stroke="#ea1a1f" strokeWidth={4.5} vectorEffect="non-scaling-stroke" />
  );
}

function StatsBox(props: any) {
  const { x, y, width, height, stats, lineGap } = props;
  const tx = x + 11;
  const b1 = y + 37;
  const b2 = b1 + lineGap;
  return (
    <g>
      <rect x={x} y={y} width={width} height={height} fill="#ffffff" />
      <text x={tx} y={b1} fontFamily={SERIF} fontSize={27} fill="#505050">
        Pearson R <tspan fontSize={17} dy={9}>CKD</tspan><tspan dy={-9}>{` = ${stats.ckd}`}</tspan>
      </text>
      <text x={tx} y={b2} fontFamily={SERIF} fontSize={27} fill="#505050">
        Pearson R <tspan fontSize={17} dy={9}>kidney donors</tspan><tspan dy={-9}>{` = ${stats.donors}`}</tspan>
      </text>
    </g>
  );
}

function Panel(cfg: any) {
  const { left, width, height, margin, yAxisWidth, yGap, labelDrop, ckd, donors, stats, statsBox, lineGap, ellipse, xSub, xShift, xDrop, yLift } = cfg;
  return (
    <div style={{ position: "absolute", left, top: 0 }}>
      <ScatterChart width={width} height={height} margin={margin}>
        <XAxis type="number" dataKey="x" domain={[0, 180]} ticks={axisTicks} interval={0} allowDataOverflow
          axisLine={false} tickLine={false} tickSize={0} tickMargin={14} height={100}
          tick={(p: any) => <XTick {...p} gap={14} labelDrop={labelDrop} />}
          label={<XTitle sub={xSub} shift={xShift} drop={xDrop} />} />
        <YAxis type="number" dataKey="y" domain={[0, 180]} ticks={axisTicks} interval={0} allowDataOverflow
          axisLine={false} tickLine={false} tickSize={0} tickMargin={yGap} width={yAxisWidth}
          tick={(p: any) => <YTick {...p} gap={yGap} />}
          label={<YTitle lift={yLift} />} />
        {gridValues.map((v) => (
          <ReferenceLine key={"gx" + v} x={v} stroke="#bdbdbd" strokeWidth={2} strokeDasharray="5 7" zIndex={50} />
        ))}
        {gridValues.map((v) => (
          <ReferenceLine key={"gy" + v} y={v} stroke="#bdbdbd" strokeWidth={2} strokeDasharray="5 7" zIndex={50} />
        ))}
        <ReferenceLine segment={identitySegment} stroke="#d2d2d2" strokeWidth={2} zIndex={60} />
        <Scatter data={ckd} shape={ckdMarker} isAnimationActive={false} zIndex={600} />
        <Scatter data={donors} shape={donorMarker} isAnimationActive={false} zIndex={610} />
        <ReferenceArea x1={statsBox.x1} x2={statsBox.x2} y1={statsBox.y1} y2={statsBox.y2} ifOverflow="visible" zIndex={700}
          shape={(p: any) => <StatsBox {...p} stats={stats} lineGap={lineGap} />} />
        <ReferenceArea x1={0} x2={180} y1={0} y2={180} ifOverflow="visible" fill="none" fillOpacity={0}
          stroke="#878787" strokeWidth={4} zIndex={800} />
        <ReferenceArea x1={ellipse.cx} x2={ellipse.cx + 1} y1={ellipse.cy} y2={ellipse.cy + 1} ifOverflow="visible" zIndex={900}
          shape={(p: any) => <EllipseShape {...p} spec={ellipse} />} />
      </ScatterChart>
    </div>
  );
}

export default function App() {
  return (
    <div style={{ position: "absolute", left: 0, top: 0, width: 1686, height: 827, background: "#ffffff", overflow: "hidden" }}>
      <div style={{ position: "absolute", left: 0, top: 0, width: 7, height: 827, background: "linear-gradient(to right, #c2c2c2, #ffffff)" }} />
      <svg width={1686} height={827} style={{ position: "absolute", left: 0, top: 0 }}>
        <text x={13} y={58} fontFamily={SANS} fontWeight="bold" fontSize={52} fill="#111" transform="scale(0.9,1)">A</text>
        <text x={948} y={56} fontFamily={SANS} fontWeight="bold" fontSize={52} fill="#111" transform="scale(0.9,1)">B</text>
      </svg>
      <Panel left={0} width={843} height={827} margin={{ top: 24, right: 41, bottom: 8, left: 0 }}
        yAxisWidth={184} yGap={16} labelDrop={43} ckd={toPoints(ckdA, ckdCoreExtraA, ckdCoreMoreA, ckdBandExtraA)} donors={toPoints(donorsA, donorsExtraA)} stats={statsA}
        statsBox={statsBoxA} lineGap={53} ellipse={ellipseA} xSub="MDRD" xShift={10} xDrop={96} yLift={25} />
      <Panel left={843} width={843} height={827} margin={{ top: 23, right: 44, bottom: 12, left: 0 }}
        yAxisWidth={182} yGap={12} labelDrop={47} ckd={toPoints(ckdB, ckdCoreExtraB, ckdCoreMoreB, ckdBandExtraB)} donors={toPoints(donorsB, donorsExtraB)} stats={statsB}
        statsBox={statsBoxB} lineGap={48} ellipse={ellipseB} xSub="C-G" xShift={-4} xDrop={100} yLift={23} />
    </div>
  );
}
